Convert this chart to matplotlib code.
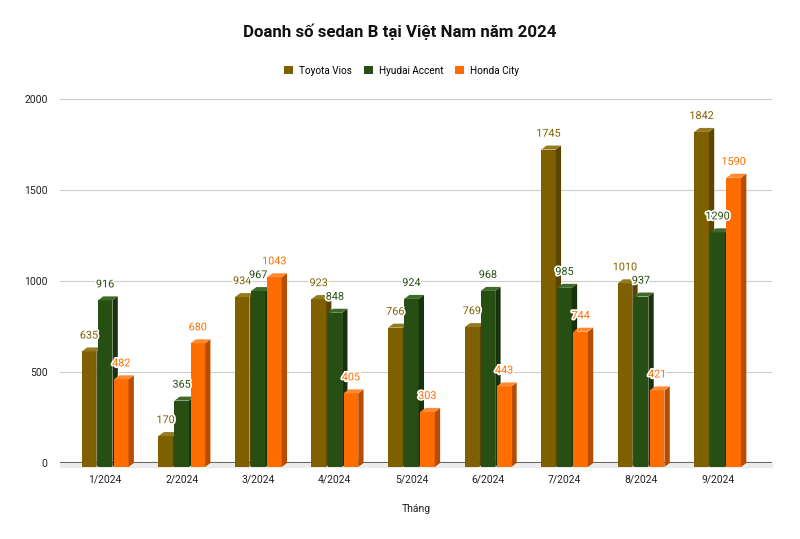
import matplotlib.pyplot as plt
from matplotlib.patches import Polygon
import matplotlib.patheffects as pe

plt.rcParams['font.family'] = ['Roboto', 'DejaVu Sans']

months = ['1/2024', '2/2024', '3/2024', '4/2024', '5/2024', '6/2024', '7/2024', '8/2024', '9/2024']
vios = [635, 170, 934, 923, 766, 769, 1745, 1010, 1842]
accent = [916, 365, 967, 848, 924, 968, 985, 937, 1290]
city = [482, 680, 1043, 405, 303, 443, 744, 421, 1590]

series = [('Toyota Vios', vios, '#7f6000', '#5c4500', '#957a1f', '#7f6000'),
          ('Hyudai Accent', accent, '#274e13', '#18330b', '#3f6a2a', '#274e13'),
          ('Honda City', city, '#ff6d01', '#b84c00', '#ff8a33', '#ff6d01')]

fig = plt.figure(figsize=(8, 5.39), dpi=100)
ax = fig.add_axes([0.075, 0.141, 0.89, 0.675])

w = 0.19
dx = 0.07   # depth in x (data units)
dy = 22     # depth in y (data units)
offsets = [-0.21, 0, 0.21]

for k, (name, vals, face, side, top, tcol) in enumerate(series):
    xs = [i + offsets[k] for i in range(len(months))]
    # front face is shifted down by the depth, back edge sits at the value
    ax.bar(xs, vals, width=w, bottom=-dy, color=face, label=name, zorder=3 + k, clip_on=False)
    for x, v in zip(xs, vals):
        l, r = x - w / 2, x + w / 2
        ax.add_patch(Polygon([(r, -dy), (r + dx, 0), (r + dx, v), (r, v - dy)],
                             closed=True, color=side, zorder=3 + k, lw=0, clip_on=False))
        ax.add_patch(Polygon([(l, v - dy), (l + dx, v), (r + dx, v), (r, v - dy)],
                             closed=True, color=top, zorder=3 + k, lw=0))
        ax.annotate(str(v), (x, v), xytext=(0, 5), textcoords='offset points',
                    ha='center', va='bottom', fontsize=7.8, color=tcol, zorder=10,
                    path_effects=[pe.withStroke(linewidth=2.5, foreground='white')])

ax.set_xlim(-0.59, 8.71)
ax.set_ylim(0, 2000)
ax.set_yticks([0, 500, 1000, 1500, 2000])
ax.set_xticks(range(len(months)))
ax.set_xticklabels(months)
ax.tick_params(axis='both', length=0, labelsize=7.5, colors='#222222')
ax.tick_params(axis='y', pad=9)
ax.tick_params(axis='x', pad=8)
ax.grid(axis='y', color='#cccccc', lw=0.8, zorder=0)
for s in ax.spines.values():
    s.set_visible(False)
ax.axhline(0, color='#666666', lw=1.5, zorder=2)
ax.axhspan(-24, 0, color='#ececec', zorder=1, clip_on=False)

ax.set_xlabel('Tháng', fontsize=7.5, color='#222222', labelpad=14)
fig.suptitle('Doanh số sedan B tại Việt Nam năm 2024', x=0.5, y=0.957,
             fontsize=12.2, fontweight='bold', color='#111111')
ax.legend(loc='lower center', bbox_to_anchor=(0.48, 1.04), ncol=3, frameon=False,
          fontsize=7.2, handlelength=0.9, handleheight=0.9, columnspacing=1.2,
          handletextpad=0.6)

fig.savefig('out.png', dpi=100)
